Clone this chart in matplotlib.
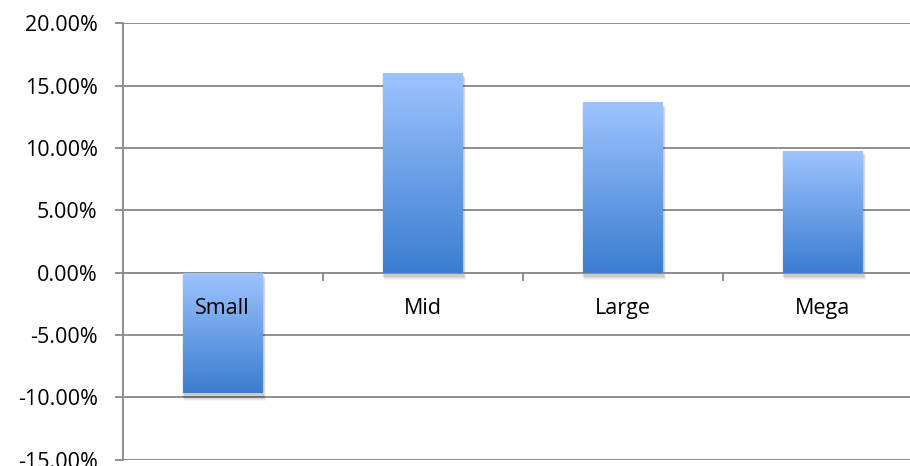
import numpy as np
import matplotlib.pyplot as plt
from matplotlib.colors import LinearSegmentedColormap
from matplotlib.ticker import FuncFormatter, FixedLocator

plt.rcParams['font.family'] = ['Open Sans', 'DejaVu Sans']

# returns by size bucket (%)
categories = ['Small', 'Mid', 'Large', 'Mega']
returns = [-9.7, 16.05, 13.65, 9.78]

fig = plt.figure(figsize=(9.1, 4.66), dpi=100)
ax = fig.add_axes([0.1348, 0.0139, 0.879, 0.936])

grid_col = '#8f8f8f'
ax.set_ylim(-15, 20)
ax.set_xlim(-0.5, 3.5)
ax.set_yticks(np.arange(-15, 21, 5))
ax.yaxis.set_major_formatter(FuncFormatter(lambda v, p: '{:.2f}%'.format(v)))
ax.grid(axis='y', color=grid_col, linewidth=1.4)
ax.set_axisbelow(True)

for s in ['top', 'right']:
    ax.spines[s].set_visible(False)
ax.spines['left'].set_color(grid_col)
ax.spines['left'].set_linewidth(1.4)
ax.spines['bottom'].set_position(('data', 0))
ax.spines['bottom'].set_color(grid_col)
ax.spines['bottom'].set_linewidth(1.4)

# ticks between categories, labels under the zero line
ax.xaxis.set_major_locator(FixedLocator([0.5, 1.5, 2.5]))
ax.xaxis.set_major_formatter(FuncFormatter(lambda v, p: ''))
ax.xaxis.set_minor_locator(FixedLocator(range(len(categories))))
ax.set_xticklabels(categories, minor=True)
ax.tick_params(axis='x', which='major', length=6, width=1.4, color=grid_col)
ax.tick_params(axis='x', which='minor', length=0, pad=18, labelsize=15.5)
ax.tick_params(axis='y', length=6, width=1.4, color=grid_col, pad=12, labelsize=15.5)
ax.xaxis.set_zorder(5)

cmap = LinearSegmentedColormap.from_list('barblue', ['#3b7dcf', '#9ec4ff'])
grad = np.linspace(0, 1, 256).reshape(-1, 1)
width = 0.4

for i, v in enumerate(returns):
    lo, hi = min(0, v), max(0, v)
    # soft drop shadow
    for k, a in enumerate([0.04, 0.05, 0.06, 0.07]):
        d = 0.01 * (4 - k)
        ax.add_patch(plt.Rectangle((i - width / 2 - 0.004 + d * 0.3, lo - 0.3 - d * 8),
                                   width + 0.008, hi - lo + 0.2,
                                   color='black', alpha=a, lw=0, zorder=2))
    bar = ax.bar(i, v, width=width, color='none', zorder=3)[0]
    img = ax.imshow(grad, cmap=cmap, aspect='auto', origin='lower',
                    extent=(i - width / 2, i + width / 2, lo, hi), zorder=3)
    img.set_clip_path(bar)

ax.set_xlim(-0.5, 3.5)
ax.set_ylim(-15, 20)

plt.savefig('out.png', dpi=100)
